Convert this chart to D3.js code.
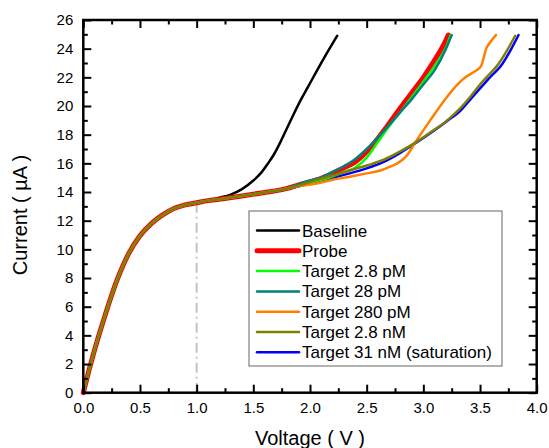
<!DOCTYPE html>
<html>
<head>
<meta charset="utf-8">
<script src="https://cdn.jsdelivr.net/npm/d3@7"></script>
<style>
  body { margin: 0; background: #fff; }
  svg text { font-family: "Liberation Sans", Arial, sans-serif; }
</style>
</head>
<body>
<div id="chart"></div>
<script>
// shared low-voltage part, every curve starts with it
const common_start = [[0,0],[0.05,1.55],[0.1,3.0],[0.2,5.6],[0.3,7.9],[0.4,9.7],[0.5,10.95],[0.6,11.8],[0.7,12.4],[0.8,12.85],[0.9,13.1],[1.0,13.25]];
// shared trunk between 1 V and ~1.8 V (all but baseline)
const common_trunk = [[1.1,13.4],[1.2,13.5],[1.4,13.72],[1.6,13.97],[1.8,14.25]];

const baseline_pts = [[1.05,13.33],[1.12,13.45],[1.2,13.6],[1.3,13.82],[1.4,14.2],[1.5,14.8],[1.57,15.35],[1.63,16.0],[1.68,16.6],[1.74,17.5],[1.8,18.5],[1.86,19.5],[1.92,20.45],[1.98,21.3],[2.06,22.45],[2.15,23.7],[2.24,24.9]];
const probe_pts = [[1.9,14.5],[2.0,14.7],[2.1,14.95],[2.2,15.3],[2.3,15.7],[2.4,16.1],[2.5,16.8],[2.6,17.75],[2.7,18.8],[2.8,19.9],[2.9,20.95],[3.0,22.0],[3.1,23.2],[3.2,24.6],[3.22,24.95]];
const t28pM_2_pts = [[1.9,14.45],[2.0,14.65],[2.1,14.85],[2.2,15.1],[2.3,15.4],[2.4,15.7],[2.5,16.4],[2.6,17.5],[2.7,18.6],[2.8,19.6],[2.9,20.65],[3.0,21.7],[3.1,22.8],[3.2,24.1],[3.24,24.95]];
const t28pM_pts = [[1.9,14.55],[2.0,14.8],[2.1,15.0],[2.2,15.4],[2.3,15.8],[2.4,16.3],[2.5,17.0],[2.6,17.8],[2.7,18.7],[2.8,19.6],[2.9,20.5],[3.0,21.5],[3.1,22.5],[3.2,24.0],[3.25,24.95]];
const t280pM_pts = [[1.9,14.4],[2.06,14.6],[2.2,14.85],[2.35,15.07],[2.5,15.3],[2.62,15.5],[2.7,15.75],[2.77,16.0],[2.85,16.5],[2.94,17.6],[3.06,19.0],[3.21,20.65],[3.3,21.5],[3.38,22.05],[3.46,22.45],[3.51,22.8],[3.53,23.3],[3.55,23.9],[3.59,24.45],[3.64,24.95]];
const t28nM_pts = [[1.9,14.45],[2.06,14.85],[2.2,15.15],[2.35,15.5],[2.5,15.85],[2.65,16.25],[2.8,16.85],[2.94,17.5],[3.08,18.25],[3.21,19.0],[3.32,19.8],[3.42,20.7],[3.5,21.5],[3.58,22.2],[3.65,22.8],[3.74,23.9],[3.81,24.9]];
const t31nM_pts = [[1.9,14.4],[2.06,14.75],[2.2,15.0],[2.35,15.3],[2.5,15.65],[2.65,16.1],[2.8,16.75],[2.94,17.45],[3.08,18.2],[3.21,18.95],[3.33,19.7],[3.43,20.6],[3.52,21.4],[3.6,22.1],[3.68,22.75],[3.77,23.9],[3.84,24.95]];

const series_names = ["Baseline","Probe","Target 2.8 pM","Target 28 pM","Target 280 pM","Target 2.8 nM","Target 31 nM (saturation)"];
const series_colors = ["#000000","#ff0000","#00ff00","#008080","#ff8000","#808000","#0000ff"];

const x_ticks_major = [0,0.5,1.0,1.5,2.0,2.5,3.0,3.5,4.0];
const x_ticks_minor = [0.25,0.75,1.25,1.75,2.25,2.75,3.25,3.75];
const y_ticks_major = [0,2,4,6,8,10,12,14,16,18,20,22,24,26];
const y_ticks_minor = [1,3,5,7,9,11,13,15,17,19,21,23,25];

function main_iv(width=549, height=448){
	const margin = ({top: 20, right: 12.3, bottom: 55.3, left: 83.3});
	const svg = d3.select("#chart").append("svg")
		.attr("width", width)
		.attr("height", height);

	const x = d3.scaleLinear().domain([0,4]).range([margin.left, width - margin.right]);
	const y = d3.scaleLinear().domain([0,26]).range([height - margin.bottom, margin.top]);

	// build the full curves from the pieces
	const curves = [
		common_start.concat(baseline_pts),
		common_start.concat(common_trunk, probe_pts),
		common_start.concat(common_trunk, t28pM_2_pts),
		common_start.concat(common_trunk, t28pM_pts),
		common_start.concat(common_trunk, t280pM_pts),
		common_start.concat(common_trunk, t28nM_pts),
		common_start.concat(common_trunk, t31nM_pts)
	];
	const widths = [2.5, 5, 2.5, 2.5, 2.5, 2.5, 2.5];
	const draw_order = [0, 1, 6, 2, 3, 4, 5]; // olive on top of blue

	// gray dash-dot marker at 1 V
	svg.append("line")
		.attr("x1", x(1.0)).attr("x2", x(1.0))
		.attr("y1", y(13.25)).attr("y2", y(0))
		.attr("stroke", "#c4c4c4")
		.attr("stroke-width", 2)
		.attr("stroke-dasharray", "10,4,2,4");

	let line = d3.line()
		.x(d => x(d[0]))
		.y(d => y(d[1]))
		.curve(d3.curveMonotoneX);

	svg.append("g").selectAll("path")
		.data(draw_order)
		.enter()
		.append("path")
		.attr("d", i => line(curves[i]))
		.attr("fill", "none")
		.attr("stroke", i => series_colors[i])
		.attr("stroke-width", i => widths[i])
		.attr("stroke-linejoin", "round")
		.attr("stroke-linecap", "round");

	// axes, ticks pointing inward
	const bottom = height - margin.bottom, right = width - margin.right;
	const fmt = d3.format(".1f");
	function styleAxis(g){
		g.select(".domain").remove();
		g.selectAll("line").attr("stroke", "#000").attr("stroke-width", 2);
		g.selectAll("text").attr("fill", "#000").style("font-size", "15px");
	}
	svg.append("g").attr("transform", `translate(0,${bottom})`)
		.call(d3.axisBottom(x).tickValues(x_ticks_major).tickFormat(fmt).tickSize(-8).tickPadding(10)).call(styleAxis);
	svg.append("g").attr("transform", `translate(0,${bottom})`)
		.call(d3.axisBottom(x).tickValues(x_ticks_minor).tickFormat("").tickSize(-4.5)).call(styleAxis);
	svg.append("g").attr("transform", `translate(0,${margin.top})`)
		.call(d3.axisTop(x).tickValues(x_ticks_major).tickFormat("").tickSize(-8)).call(styleAxis);
	svg.append("g").attr("transform", `translate(0,${margin.top})`)
		.call(d3.axisTop(x).tickValues(x_ticks_minor).tickFormat("").tickSize(-4.5)).call(styleAxis);
	svg.append("g").attr("transform", `translate(${margin.left},0)`)
		.call(d3.axisLeft(y).tickValues(y_ticks_major).tickFormat(d3.format("d")).tickSize(-8).tickPadding(10)).call(styleAxis);
	svg.append("g").attr("transform", `translate(${margin.left},0)`)
		.call(d3.axisLeft(y).tickValues(y_ticks_minor).tickFormat("").tickSize(-4.5)).call(styleAxis);
	svg.append("g").attr("transform", `translate(${right},0)`)
		.call(d3.axisRight(y).tickValues(y_ticks_major).tickFormat("").tickSize(-8)).call(styleAxis);
	svg.append("g").attr("transform", `translate(${right},0)`)
		.call(d3.axisRight(y).tickValues(y_ticks_minor).tickFormat("").tickSize(-4.5)).call(styleAxis);

	// frame
	svg.append("rect")
		.attr("x", margin.left).attr("y", margin.top)
		.attr("width", right - margin.left).attr("height", bottom - margin.top)
		.attr("fill", "none").attr("stroke", "#000").attr("stroke-width", 2.5);

	// axis titles
	svg.append("text")
		.attr("x", (margin.left + right)/2).attr("y", 445)
		.attr("text-anchor", "middle")
		.style("font-size", "20px")
		.text("Voltage ( V )");
	svg.append("text")
		.attr("transform", "translate(27,215) rotate(-90)")
		.attr("text-anchor", "middle")
		.style("font-size", "20px")
		.text("Current ( µA )");

	// legend
	const leg = svg.append("g");
	leg.append("rect")
		.attr("x", 249).attr("y", 211).attr("width", 253).attr("height", 155)
		.attr("fill", "#fff").attr("stroke", "#666").attr("stroke-width", 1);
	const row = leg.selectAll("g.entry")
		.data(series_names)
		.enter()
		.append("g")
		.attr("class", "entry")
		.attr("transform", (d,i) => `translate(0,${230.5 + i*20.3})`);
	row.append("line")
		.attr("x1", 257).attr("x2", 299)
		.attr("stroke", (d,i) => series_colors[i])
		.attr("stroke-width", (d,i) => widths[i])
		.attr("stroke-linecap", "round");
	row.append("text")
		.attr("x", 302).attr("y", 6)
		.style("font-size", "17px")
		.text(d => d);

	return svg.node();
}
main_iv();
</script>
</body>
</html>
